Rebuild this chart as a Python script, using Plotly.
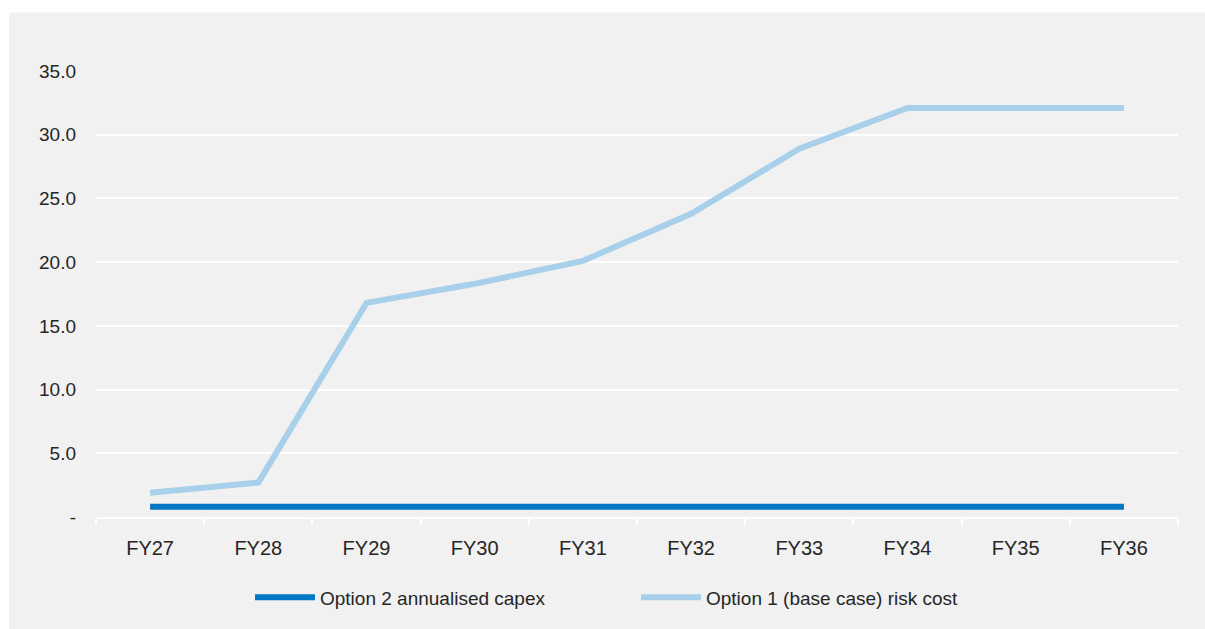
import plotly.graph_objects as go

categories = ["FY27", "FY28", "FY29", "FY30", "FY31", "FY32", "FY33", "FY34", "FY35", "FY36"]
option2_capex = [0.8, 0.8, 0.8, 0.8, 0.8, 0.8, 0.8, 0.8, 0.8, 0.8]
option1_risk = [1.9, 2.7, 16.8, 18.3, 20.1, 23.8, 28.9, 32.1, 32.1, 32.1]
y_tickvals = [0, 5, 10, 15, 20, 25, 30, 35]
y_ticktext = ["-", "5.0", "10.0", "15.0", "20.0", "25.0", "30.0", "35.0"]

W, H = 1205, 629
ml, mr, mt, mb = 96, 27, 71, 109
pw, ph = W - ml - mr, H - mt - mb

def px_x(p):
    return (p - ml) / pw

def px_y(p):
    return (H - mb - p) / ph

fig = go.Figure()
fig.add_trace(go.Scatter(
    x=categories, y=option2_capex, mode="lines",
    name="Option 2 annualised capex",
    line=dict(color="#0077c2", width=6),
))
fig.add_trace(go.Scatter(
    x=categories, y=option1_risk, mode="lines",
    name="Option 1 (base case) risk cost",
    line=dict(color="#a9d0ea", width=6),
))

font_family = "Liberation Sans, Arial, sans-serif"
fig.update_layout(
    width=W, height=H,
    margin=dict(l=ml, r=mr, t=mt, b=mb),
    paper_bgcolor="#f1f1f1",
    plot_bgcolor="rgba(0,0,0,0)",
    font=dict(family=font_family, size=19, color="#262626"),
    showlegend=True,
    legend=dict(
        orientation="h", x=px_x(250), xanchor="left", y=px_y(601), yanchor="middle",
        font=dict(size=19, color="#262626"), bgcolor="rgba(0,0,0,0)",
        itemwidth=60, entrywidth=311, tracegroupgap=0,
    ),
    shapes=[
        dict(type="rect", xref="paper", yref="paper", layer="below",
             x0=px_x(-5), x1=px_x(W + 5), y0=px_y(12), y1=px_y(-5),
             fillcolor="white", line=dict(width=0)),
        dict(type="rect", xref="paper", yref="paper", layer="below",
             x0=px_x(-5), x1=px_x(9), y0=px_y(H + 5), y1=px_y(-5),
             fillcolor="white", line=dict(width=0)),
    ],
)
fig.update_xaxes(
    type="category", range=[-0.5, 9.5], showgrid=False, showline=True,
    linecolor="white", linewidth=2,
    ticks="outside", tickson="boundaries", ticklen=6, tickcolor="white", tickwidth=2,
    ticklabelstandoff=12, zeroline=False, tickfont=dict(size=20),
)
fig.update_yaxes(
    range=[0, 35], tickvals=y_tickvals, ticktext=y_ticktext,
    showgrid=True, gridcolor="white", gridwidth=2, zeroline=False, showline=False,
    ticks="", ticklabelstandoff=19,
)

fig.write_html("out.html")
